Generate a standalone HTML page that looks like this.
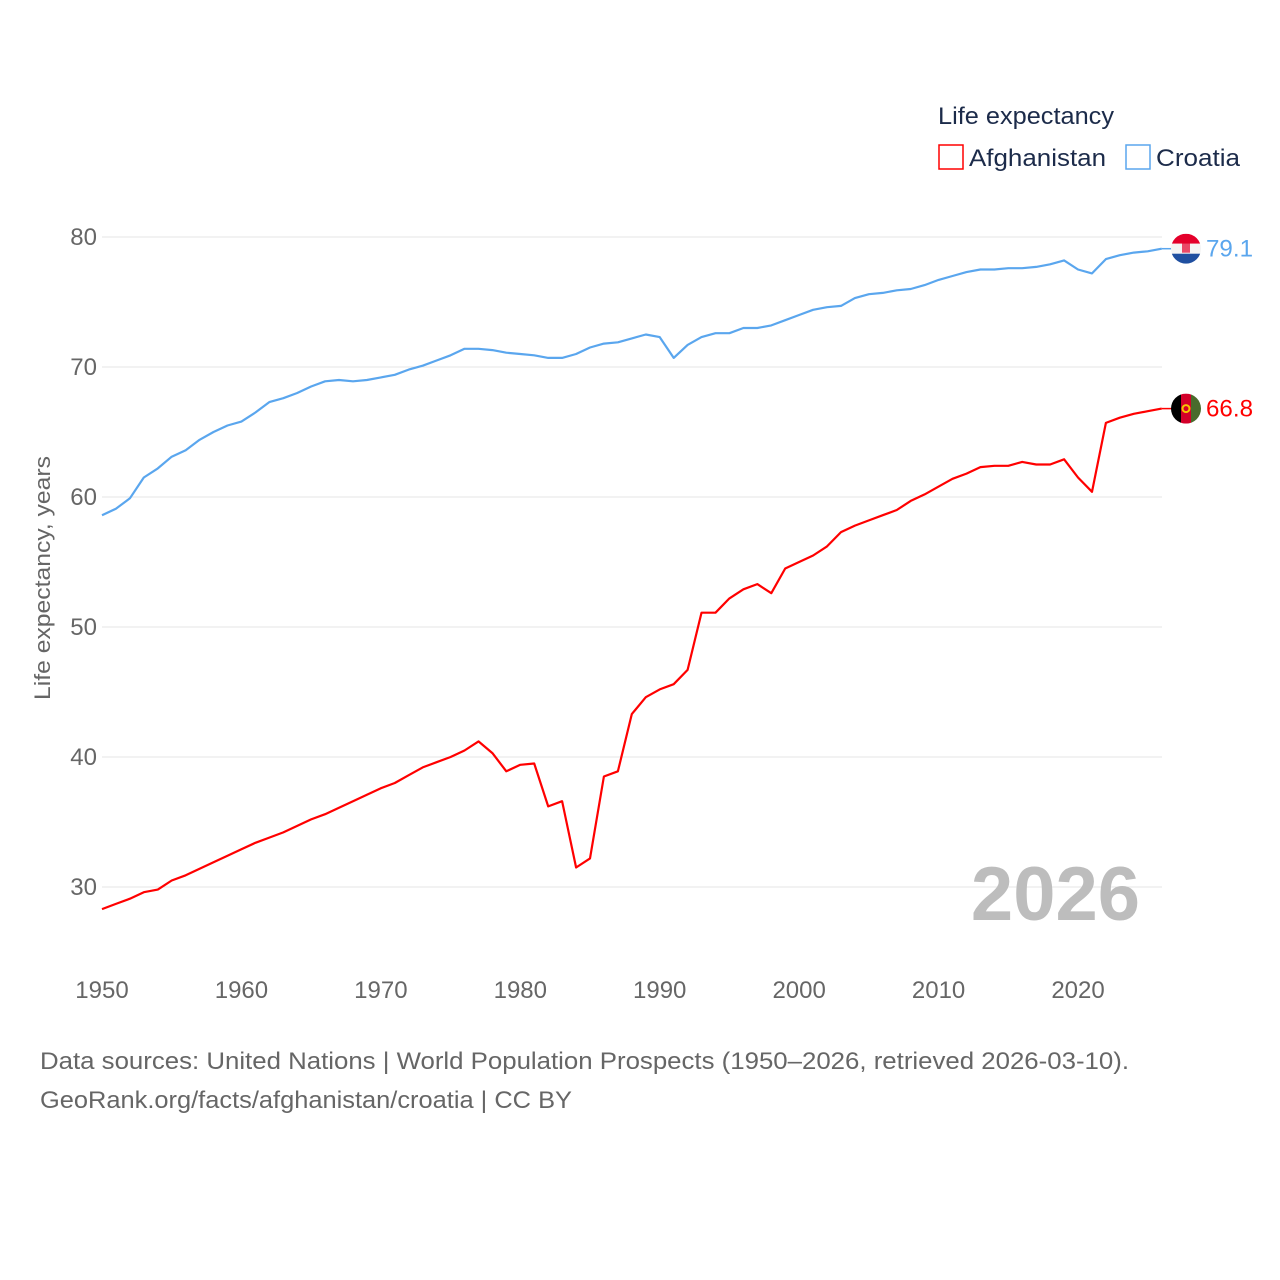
<!DOCTYPE html>
<html><head><meta charset="utf-8"><style>
html,body{margin:0;padding:0;background:#fff;}
svg{display:block;font-family:"Liberation Sans",sans-serif;}
</style></head><body>
<svg id="chart" width="1280" height="1280" viewBox="0 0 1280 1280">
<g id="grid"></g>
<g id="yticks"></g>
<g id="xticks"></g>
<text x="1140" y="920" text-anchor="end" font-size="76" font-weight="bold" fill="#bdbdbd">2026</text>
<text transform="translate(50,578) rotate(-90)" text-anchor="middle" font-size="22" fill="#666" textLength="244" lengthAdjust="spacingAndGlyphs">Life expectancy, years</text>
<g id="series"></g>
<g>
<text x="938" y="124" font-size="24" fill="#1c2b4a" textLength="176" lengthAdjust="spacingAndGlyphs">Life expectancy</text>
<g>
<rect x="939" y="145" width="24" height="24" fill="none" stroke="#ff0000" stroke-width="1.5"/>
<text x="969" y="166" font-size="24" fill="#1c2b4a" textLength="137" lengthAdjust="spacingAndGlyphs">Afghanistan</text></g>
<g>
<rect x="1126" y="145" width="24" height="24" fill="none" stroke="#5aa6ee" stroke-width="1.5"/>
<text x="1156" y="166" font-size="24" fill="#1c2b4a" textLength="84" lengthAdjust="spacingAndGlyphs">Croatia</text></g>
</g>
<text x="40" y="1069" font-size="24" fill="#666" textLength="1089" lengthAdjust="spacingAndGlyphs">Data sources: United Nations | World Population Prospects (1950–2026, retrieved 2026-03-10).</text>
<text x="40" y="1108" font-size="24" fill="#666" textLength="532" lengthAdjust="spacingAndGlyphs">GeoRank.org/facts/afghanistan/croatia | CC BY</text>
</svg>
<script>
const years = Array.from({length:77},(_, i)=>1950+i);
const croatia = [58.6,59.1,59.9,61.5,62.2,63.1,63.6,64.4,65.0,65.5,65.8,66.5,67.3,67.6,68.0,68.5,68.9,69.0,68.9,69.0,69.2,69.4,69.8,70.1,70.5,70.9,71.4,71.4,71.3,71.1,71.0,70.9,70.7,70.7,71.0,71.5,71.8,71.9,72.2,72.5,72.3,70.7,71.7,72.3,72.6,72.6,73.0,73.0,73.2,73.6,74.0,74.4,74.6,74.7,75.3,75.6,75.7,75.9,76.0,76.3,76.7,77.0,77.3,77.5,77.5,77.6,77.6,77.7,77.9,78.2,77.5,77.2,78.3,78.6,78.8,78.9,79.1];
const afghanistan = [28.3,28.7,29.1,29.6,29.8,30.5,30.9,31.4,31.9,32.4,32.9,33.4,33.8,34.2,34.7,35.2,35.6,36.1,36.6,37.1,37.6,38.0,38.6,39.2,39.6,40.0,40.5,41.2,40.3,38.9,39.4,39.5,36.2,36.6,31.5,32.2,38.5,38.9,43.3,44.6,45.2,45.6,46.7,51.1,51.1,52.2,52.9,53.3,52.6,54.5,55.0,55.5,56.2,57.3,57.8,58.2,58.6,59.0,59.7,60.2,60.8,61.4,61.8,62.3,62.4,62.4,62.7,62.5,62.5,62.9,61.5,60.4,65.7,66.1,66.4,66.6,66.8];
const yTicks = [30,40,50,60,70,80];
const xTicks = [1950,1960,1970,1980,1990,2000,2010,2020];

const NS='http://www.w3.org/2000/svg';
const X = y => 102 + (y-1950)*13.943;
const Y = v => 237 + (80-v)*13;
function mk(tag, attrs, parent){const e=document.createElementNS(NS,tag);for(const k in attrs)e.setAttribute(k,attrs[k]);parent.appendChild(e);return e;}
const grid=document.getElementById('grid'), yt=document.getElementById('yticks'), xt=document.getElementById('xticks'), ser=document.getElementById('series');
yTicks.forEach(v=>{
  const l=mk('line',{x1:102,x2:1162,y1:Y(v),y2:Y(v),stroke:'#e6e6e6','stroke-width':1},grid);
  
  
  const t=mk('text',{x:97,y:Y(v)+8,'text-anchor':'end','font-size':24,fill:'#666'},yt);
  t.textContent=v;
  
  
});
xTicks.forEach(v=>{
  const t=mk('text',{x:X(v),y:998,'text-anchor':'middle','font-size':24,fill:'#666'},xt);
  t.textContent=v;
  
  
});
function drawSeries(vals,color,name,flag){
  const d=vals.map((v,i)=>(i?'L':'M')+X(years[i]).toFixed(1)+','+Y(v).toFixed(1)).join('');
  const p=mk('path',{d:d,fill:'none',stroke:color,'stroke-width':2.2,'stroke-linejoin':'round'},ser);
  
  
  const last=vals[vals.length-1], lx=X(years[years.length-1]), ly=Y(last);
  mk('line',{x1:lx,x2:lx+10,y1:ly,y2:ly,stroke:color,'stroke-width':1.5},ser);
  const g=mk('g',{},ser);
  
  
  flag(g,1186,ly);
  const t=mk('text',{x:1206,y:ly+8,'font-size':24,fill:color,textLength:47,lengthAdjust:'spacingAndGlyphs'},ser);
  t.textContent=last.toFixed(1);
  
  
}
function croFlag(g,cx,cy){
  const id='cc'; mk('clipPath',{id:id},g); mk('circle',{cx:cx,cy:cy,r:15},g.lastChild);
  const h=mk('g',{'clip-path':'url(#'+id+')'},g);
  mk('rect',{x:cx-15,y:cy-15,width:30,height:10,fill:'#e4002b'},h);
  mk('rect',{x:cx-15,y:cy-5,width:30,height:10,fill:'#f4f4f4'},h);
  mk('rect',{x:cx-15,y:cy+5,width:30,height:10,fill:'#1f4fa0'},h);
  mk('rect',{x:cx-4,y:cy-7,width:8,height:11,fill:'#e4002b',opacity:0.7},h);
}
function afgFlag(g,cx,cy){
  const id='ac'; mk('clipPath',{id:id},g); mk('circle',{cx:cx,cy:cy,r:15},g.lastChild);
  const h=mk('g',{'clip-path':'url(#'+id+')'},g);
  mk('rect',{x:cx-15,y:cy-15,width:10,height:30,fill:'#000'},h);
  mk('rect',{x:cx-5,y:cy-15,width:10,height:30,fill:'#d3002a'},h);
  mk('rect',{x:cx+5,y:cy-15,width:10,height:30,fill:'#4a6b2c'},h);
  mk('circle',{cx:cx,cy:cy,r:3.5,fill:'none',stroke:'#f5c400','stroke-width':2},h);
}
drawSeries(croatia,'#5aa6ee','croatia',croFlag);
drawSeries(afghanistan,'#ff0000','afghanistan',afgFlag);
</script>
</body></html>
